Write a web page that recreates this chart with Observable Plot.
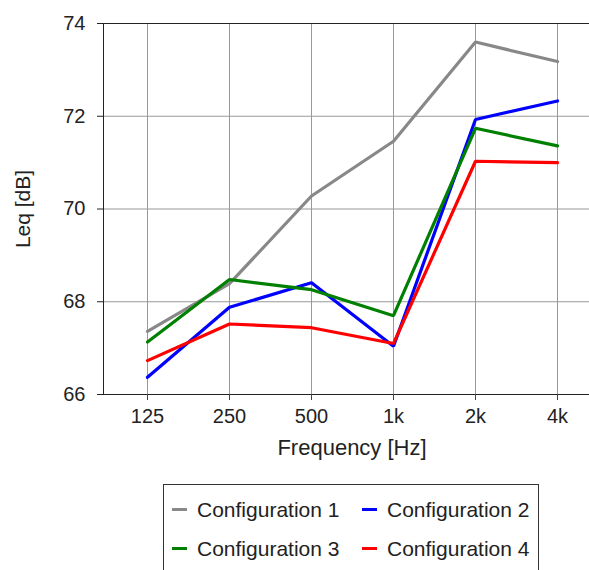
<!DOCTYPE html>
<html>
<head>
<meta charset="utf-8">
<script src="https://cdn.jsdelivr.net/npm/d3@7"></script>
<script src="https://cdn.jsdelivr.net/npm/@observablehq/plot@0.6"></script>
<style>
  html, body { margin: 0; padding: 0; background: white; overflow: hidden; }
  #wrap { position: relative; width: 589px; height: 570px; overflow: hidden; font-family: "Liberation Sans", Arial, sans-serif; }
  #legend { position: absolute; left: 163px; top: 484px; width: 376px; height: 100px; border: 1px solid #333; box-sizing: border-box; padding-top: 5px; display: grid; grid-template-columns: 190px 186px; grid-auto-rows: 39px; }
  .item { display: flex; align-items: center; font-size: 21px; color: #222; padding-left: 8px; white-space: nowrap; }
  .sw { width: 15px; height: 3px; margin-right: 10px; }
</style>
</head>
<body>
<div id="wrap"><div id="chart"></div><div id="legend"></div></div>
<script>
const frequencies = ["125", "250", "500", "1k", "2k", "4k"];
const seriesNames = ["Configuration 1", "Configuration 2", "Configuration 3", "Configuration 4"];
const seriesColors = ["#888888", "#0000ff", "#008000", "#ff0000"];
const config1 = [67.36, 68.39, 70.28, 71.46, 73.60, 73.18];
const config2 = [66.37, 67.88, 68.41, 67.04, 71.93, 72.33];
const config3 = [67.13, 68.48, 68.26, 67.70, 71.74, 71.36];
const config4 = [66.73, 67.52, 67.44, 67.10, 71.03, 71.00];
const yTicks = [66, 68, 70, 72, 74];

const allSeries = [config1, config2, config3, config4];
const data = [];
allSeries.forEach((vals, s) => vals.forEach((v, i) => data.push({series: seriesNames[s], freq: frequencies[i], value: v})));

const chart = Plot.plot({
  width: 600,
  height: 470,
  marginLeft: 103,
  marginRight: 0,
  marginTop: 23,
  marginBottom: 76,
  style: {fontFamily: "'Liberation Sans', Arial, sans-serif", fontSize: "20px", color: "#222", maxWidth: "none", background: "white", overflow: "visible"},
  x: {type: "point", domain: frequencies, padding: 0.5},
  y: {domain: [66, 74]},
  color: {domain: seriesNames, range: seriesColors},
  marks: [
    Plot.gridX({stroke: "#999", strokeOpacity: 1}),
    Plot.gridY({ticks: yTicks, stroke: "#999", strokeOpacity: 1}),
    Plot.frame({stroke: "#222"}),
    Plot.axisX({tickSize: 6, tickPadding: 8, stroke: "#444", label: null, fontSize: 20}),
    Plot.axisX({ticks: [], label: "Frequency [Hz]", labelAnchor: "center", labelArrow: "none", labelOffset: 60, fontSize: 22}),
    Plot.axisY({ticks: yTicks, tickSize: 6, tickPadding: 12, stroke: "#222", label: null, fontSize: 20}),
    Plot.axisY({ticks: [], label: "Leq [dB]", labelAnchor: "center", labelArrow: "none", labelOffset: 88, fontSize: 21}),
    Plot.line(data, {x: "freq", y: "value", z: "series", stroke: "series", strokeWidth: 3.2, strokeLinejoin: "miter"})
  ]
});
document.getElementById("chart").appendChild(chart);

const legend = document.getElementById("legend");
seriesNames.forEach((name, i) => {
  const item = document.createElement("div");
  item.className = "item";
  const sw = document.createElement("span");
  sw.className = "sw";
  sw.style.background = seriesColors[i];
  item.appendChild(sw);
  item.appendChild(document.createTextNode(name));
  legend.appendChild(item);
});
</script>
</body>
</html>
